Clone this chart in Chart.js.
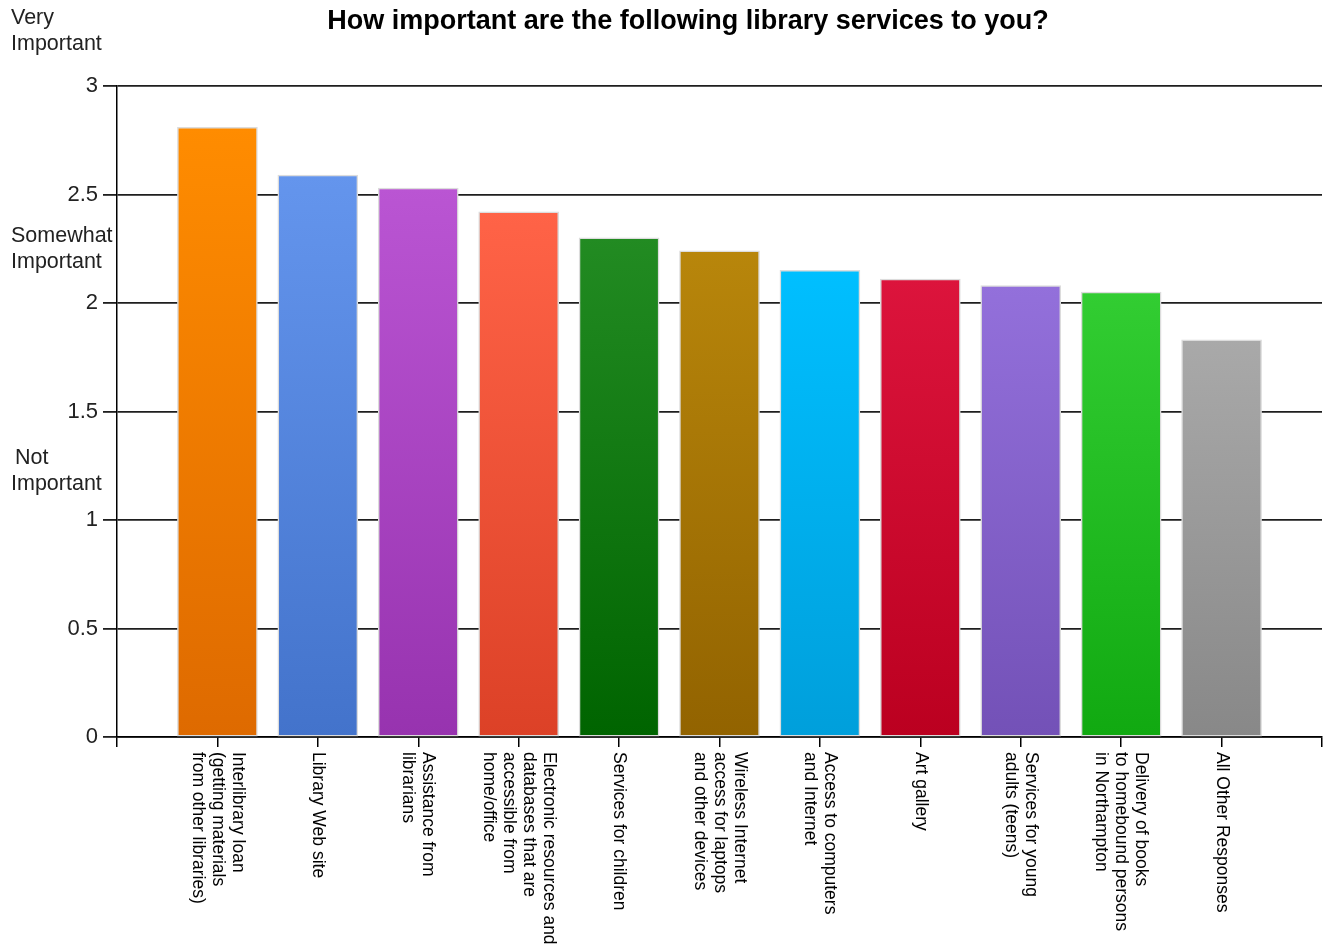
<!DOCTYPE html>
<html lang="en">
<head>
  <meta charset="UTF-8" />
  <title>Library Services</title>
  <script src="https://cdn.jsdelivr.net/npm/chart.js"></script>
  <style>
    body {
      margin: 0;
      background: #fff;
    }
    #wrap {
      width: 1325px;
      height: 947px;
    }
  </style>
</head>
<body>
  <div id="wrap"><canvas id="chart"></canvas></div>

  <script>
    const title = "How important are the following library services to you?";

    const services = [
      ["Interlibrary loan", "(getting materials", "from other libraries)"],
      ["Library Web site"],
      ["Assistance from", "librarians"],
      ["Electronic resources and", "databases that are", "accessible from", "home/office"],
      ["Services for children"],
      ["Wireless Internet", "access for laptops", "and other devices"],
      ["Access to computers", "and Internet"],
      ["Art gallery"],
      ["Services for young", "adults (teens)"],
      ["Delivery of books", "to homebound persons", "in Northampton"],
      ["All Other Responses"]
    ];

    const scores = [2.81, 2.59, 2.53, 2.42, 2.30, 2.24, 2.15, 2.11, 2.08, 2.05, 1.83];

    const topColors = ["#FF8C00", "#6495ED", "#BA55D3", "#FF6347", "#228B22", "#B8860B",
                       "#00BFFF", "#DC143C", "#9370DB", "#32CD32", "#A9A9A9"];
    const bottomColors = ["#DE6A00", "#4373CB", "#9733AF", "#DC4127", "#006400", "#926300",
                          "#009FDB", "#BB0020", "#7351B7", "#11A911", "#888888"];

    // side notes on the value axis: [lines, value]
    const scaleNotes = [
      [["Very", "Important"], 3.255],
      [["Somewhat", "Important"], 2.25],
      [["Not", "Important"], 1.225]
    ];

    const yTicks = [0, 0.5, 1, 1.5, 2, 2.5, 3];

    const points = scores.map((v, i) => ({ x: i + 1, y: v }));

    function barGradient(ctx) {
      const chart = ctx.chart;
      const area = chart.chartArea;
      const i = ctx.dataIndex;
      if (!area || i === undefined) return topColors[i] || "#999";
      const y = chart.scales.y;
      const top = y.getPixelForValue(scores[i]);
      const bottom = y.getPixelForValue(0);
      const g = chart.ctx.createLinearGradient(0, top, 0, bottom);
      g.addColorStop(0, topColors[i]);
      g.addColorStop(1, bottomColors[i]);
      return g;
    }

    const textPlugin = {
      id: "texts",
      afterDraw(chart) {
        const c = chart.ctx;
        const xs = chart.scales.x;
        const ys = chart.scales.y;
        c.save();

        // title
        c.fillStyle = "#000";
        c.font = "bold 27px 'Liberation Sans', Arial, sans-serif";
        c.textAlign = "center";
        c.textBaseline = "middle";
        c.fillText(title, 688, 22);

        // side notes
        c.font = "21.5px 'Liberation Sans', Arial, sans-serif";
        c.fillStyle = "#222";
        c.textAlign = "left";
        scaleNotes.forEach(([lines, v]) => {
          const mid = ys.getPixelForValue(v);
          lines.forEach((t, k) => {
            const yy = mid + (k - (lines.length - 1) / 2) * 26;
            c.fillText(t, t === "Not" ? 15 : 11, yy);
          });
        });

        // category labels, turned clockwise
        c.font = "17.5px 'Liberation Sans', Arial, sans-serif";
        c.fillStyle = "#000";
        c.textBaseline = "middle";
        services.forEach((lines, i) => {
          const px = xs.getPixelForValue(i + 1);
          c.save();
          c.translate(px, 752);
          c.rotate(Math.PI / 2);
          lines.forEach((t, k) => {
            const off = (k - (lines.length - 1) / 2) * 20;
            c.fillText(t, 0, off);
          });
          c.restore();
        });
        c.restore();
      }
    };

    new Chart(document.getElementById("chart"), {
      type: "bar",
      data: {
        datasets: [{
          data: points,
          backgroundColor: barGradient,
          borderColor: "#dcdcdc",
          borderWidth: 1.5,
          borderSkipped: false,
          barThickness: 80
        }]
      },
      options: {
        responsive: true,
        maintainAspectRatio: false,
        animation: false,
        layout: { padding: { top: 86, right: 3, left: 0, bottom: 0 } },
        plugins: {
          legend: { display: false },
          tooltip: { enabled: false }
        },
        scales: {
          x: {
            type: "linear",
            offset: false,
            min: 0,
            max: 12,
            ticks: { stepSize: 1, display: false },
            grid: {
              offset: false,
              drawOnChartArea: false,
              drawTicks: true,
              tickLength: 10,
              color: "#000",
              lineWidth: 1.5
            },
            border: { display: true, color: "#000", width: 1.5 },
            afterFit(scale) { scale.height = 210; }
          },
          y: {
            min: 0,
            max: 3,
            afterBuildTicks(scale) { scale.ticks = yTicks.map(v => ({ value: v })); },
            ticks: {
              color: "#222",
              padding: 5,
              font: { family: "'Liberation Sans', Arial, sans-serif", size: 22 },
              callback: v => String(v)
            },
            grid: {
              color: "#1e1e1e",
              lineWidth: 1.8,
              tickLength: 14
            },
            border: { display: true, color: "#000", width: 1.5 },
            afterFit(scale) { scale.width = 117; }
          }
        }
      },
      plugins: [textPlugin]
    });
  </script>
</body>
</html>
